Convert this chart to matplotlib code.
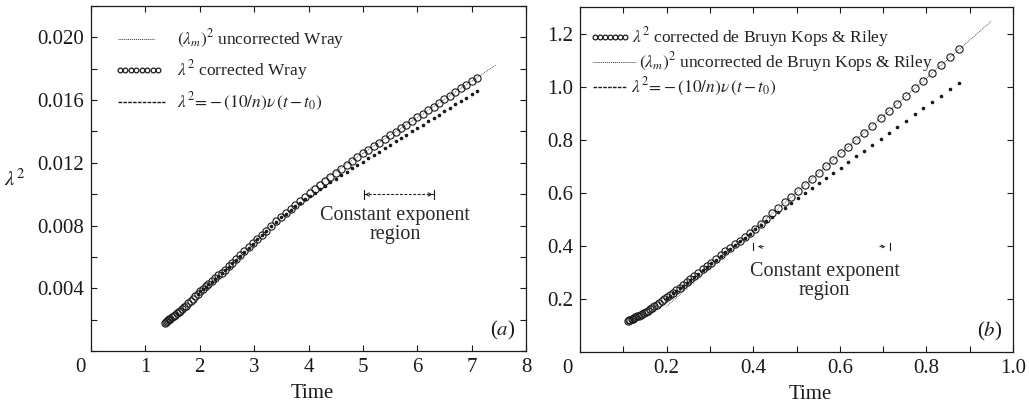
import numpy as np
import matplotlib
matplotlib.use("Agg")
import matplotlib.pyplot as plt
from matplotlib.lines import Line2D
from matplotlib.transforms import ScaledTranslation
from matplotlib.ticker import MultipleLocator, FixedLocator

plt.rcParams['font.family'] = ['Liberation Serif', 'DejaVu Serif']
plt.rcParams['mathtext.fontset'] = 'stix'

# ---------------- (a) Wray ----------------
wray_t = [1.36, 1.38, 1.40, 1.42, 1.44, 1.46, 1.49, 1.52, 1.55, 1.58, 1.61, 1.64,
          1.67, 1.71, 1.75, 1.79, 1.83, 1.87, 1.91, 1.96, 2.01, 2.06, 2.11, 2.16,
          2.22, 2.28, 2.34, 2.40, 2.46, 2.53, 2.60, 2.67, 2.74, 2.82, 2.90, 2.98,
          3.06, 3.14, 3.22, 3.31, 3.40, 3.49, 3.58, 3.67, 3.76, 3.85, 3.94, 4.03,
          4.12, 4.21, 4.30, 4.40, 4.50, 4.60, 4.70, 4.80, 4.90, 5.00, 5.10, 5.20,
          5.30, 5.40, 5.50, 5.60, 5.70, 5.80, 5.90, 6.00, 6.10, 6.20, 6.30, 6.40,
          6.50, 6.60, 6.70, 6.80, 6.90, 7.00, 7.10]
wray_corr = [0.00181, 0.00186, 0.00192, 0.00197, 0.00202, 0.00207, 0.00215, 0.00223,
             0.00232, 0.00241, 0.00250, 0.00258, 0.00267, 0.00278, 0.00290, 0.00304,
             0.00319, 0.00333, 0.00348, 0.00366, 0.00383, 0.00398, 0.00413, 0.00428,
             0.00446, 0.00464, 0.00482, 0.00500, 0.00518, 0.00540, 0.00563, 0.00586,
             0.00609, 0.00636, 0.00662, 0.00688, 0.00715, 0.00741, 0.00768, 0.00797,
             0.00827, 0.00857, 0.00882, 0.00908, 0.00933, 0.00958, 0.00983, 0.01008,
             0.01032, 0.01057, 0.01081, 0.01108, 0.01135, 0.01160, 0.01185, 0.01210,
             0.01235, 0.01260, 0.01283, 0.01306, 0.01329, 0.01352, 0.01375, 0.01398,
             0.01421, 0.01444, 0.01467, 0.01490, 0.01513, 0.01536, 0.01559, 0.01582,
             0.01605, 0.01628, 0.01651, 0.01674, 0.01697, 0.01720, 0.01743]
wray_unc_t = wray_t[19:]
wray_unc = [0.00363, 0.00380, 0.00395, 0.00410, 0.00425, 0.00443, 0.00461, 0.00479,
            0.00497, 0.00515, 0.00537, 0.00560, 0.00583, 0.00606, 0.00633, 0.00659,
            0.00685, 0.00712, 0.00738, 0.00765, 0.00794, 0.00824, 0.00852, 0.00876,
            0.00899, 0.00922, 0.00945, 0.00967, 0.00989, 0.01010, 0.01031, 0.01052,
            0.01075, 0.01098, 0.01120, 0.01142, 0.01164, 0.01186, 0.01207, 0.01229,
            0.01250, 0.01272, 0.01293, 0.01315, 0.01336, 0.01358, 0.01379, 0.01401,
            0.01422, 0.01444, 0.01465, 0.01487, 0.01508, 0.01530, 0.01551, 0.01573,
            0.01594, 0.01616, 0.01637, 0.01659]
wray_fit_t = [4.0, 7.45]
wray_fit = [0.0103, 0.01824]
wray_region = [5.02, 6.30]
wray_xticks = [0, 1, 2, 3, 4, 5, 6, 7, 8]
wray_xlabels = ['0', '1', '2', '3', '4', '5', '6', '7', '8']
wray_yticks = [0.004, 0.008, 0.012, 0.016, 0.020]
wray_ylabels = ['0.004', '0.008', '0.012', '0.016', '0.020']

# ---------------- (b) de Bruyn Kops & Riley ----------------
dbkr_t = [0.110, 0.113, 0.116, 0.119, 0.122, 0.125, 0.128, 0.132, 0.136, 0.140,
          0.144, 0.148, 0.152, 0.157, 0.162, 0.167, 0.172, 0.177, 0.183, 0.189,
          0.195, 0.201, 0.208, 0.215, 0.222, 0.230, 0.238, 0.246, 0.255, 0.264,
          0.273, 0.283, 0.293, 0.303, 0.314, 0.325, 0.336, 0.347, 0.358, 0.369,
          0.380, 0.392, 0.404, 0.417, 0.430, 0.444, 0.458, 0.473, 0.488, 0.503,
          0.519, 0.535, 0.551, 0.568, 0.585, 0.602, 0.620, 0.638, 0.656, 0.675,
          0.694, 0.713, 0.733, 0.753, 0.773, 0.793, 0.813, 0.833, 0.854, 0.875]
dbkr_corr = [0.118, 0.120, 0.122, 0.124, 0.126, 0.128, 0.131, 0.134, 0.137, 0.140,
             0.143, 0.146, 0.150, 0.155, 0.161, 0.166, 0.172, 0.177, 0.184, 0.191,
             0.198, 0.206, 0.215, 0.224, 0.233, 0.243, 0.253, 0.263, 0.274, 0.286,
             0.298, 0.311, 0.324, 0.337, 0.351, 0.365, 0.379, 0.393, 0.406, 0.420,
             0.434, 0.449, 0.465, 0.483, 0.502, 0.522, 0.542, 0.564, 0.585, 0.607,
             0.630, 0.652, 0.675, 0.700, 0.724, 0.748, 0.774, 0.800, 0.826, 0.853,
             0.880, 0.908, 0.936, 0.965, 0.994, 1.022, 1.051, 1.080, 1.110, 1.140]
dbkr_unc_t = dbkr_t[21:]
dbkr_unc = [0.203, 0.212, 0.221, 0.230, 0.240, 0.250, 0.260, 0.271, 0.283, 0.295,
            0.308, 0.321, 0.334, 0.348, 0.362, 0.376, 0.390, 0.403, 0.417, 0.431,
            0.446, 0.464, 0.479, 0.494, 0.510, 0.527, 0.544, 0.562, 0.580, 0.598,
            0.617, 0.636, 0.656, 0.675, 0.695, 0.716, 0.737, 0.759, 0.781, 0.803,
            0.825, 0.849, 0.872, 0.895, 0.919, 0.942, 0.966, 0.990, 1.015]
dbkr_fit_t = [0.20, 0.95]
dbkr_fit = [0.172, 1.247]
dbkr_region = [0.40, 0.716]
dbkr_xticks = [0.0, 0.2, 0.4, 0.6, 0.8, 1.0]
dbkr_xlabels = ['0', '0.2', '0.4', '0.6', '0.8', '1.0']
dbkr_yticks = [0.2, 0.4, 0.6, 0.8, 1.0, 1.2]
dbkr_ylabels = ['0.2', '0.4', '0.6', '0.8', '1.0', '1.2']

W, H = 1029, 407
fig = plt.figure(figsize=(W / 100, H / 100), dpi=100)
axa = fig.add_axes([91 / W, 1 - 351 / H, 435 / W, 345 / H])
axb = fig.add_axes([580 / W, 1 - 352 / H, 433 / W, 345 / H])

INK = '#1a1a1a'
circ = dict(linestyle='none', marker='o', markersize=5.2, markerfacecolor='none',
            markeredgecolor=INK, markeredgewidth=0.8)
dots = dict(linestyle='none', marker='o', markersize=1.6, color=INK)
fitkw = dict(linestyle=(0, (1, 1.2)), linewidth=0.6, color='#333333')

for ax in (axa, axb):
    for s in ax.spines.values():
        s.set_linewidth(0.9)
        s.set_color(INK)
    ax.tick_params(which='both', direction='in', top=True, right=True,
                   length=4, width=0.8, colors=INK, labelsize=15, pad=5)

# panel (a)
axa.plot(wray_fit_t, wray_fit, **fitkw)
axa.plot(wray_unc_t, wray_unc, **dots)
axa.plot(wray_t, wray_corr, **circ)
axa.set_xlim(0, 8)
axa.set_ylim(0, 0.022)
axa.set_xticks(wray_xticks, wray_xlabels)
axa.set_yticks(wray_yticks, wray_ylabels)
axa.yaxis.set_minor_locator(MultipleLocator(0.002))

# panel (b)
axb.plot(dbkr_fit_t, dbkr_fit, **fitkw)
axb.plot(dbkr_unc_t, dbkr_unc, **dots)
axb.plot(dbkr_t, dbkr_corr, **circ)
axb.set_xlim(0, 1.0)
axb.set_ylim(0, 1.3)
axb.set_xticks(dbkr_xticks, dbkr_xlabels)
axb.set_yticks(dbkr_yticks, dbkr_ylabels)
axb.xaxis.set_minor_locator(MultipleLocator(0.1))

fig.canvas.draw()
for ax, dx in ((axa, -11), (axb, -13)):
    lab = ax.get_xticklabels()[0]
    lab.set_transform(lab.get_transform() + ScaledTranslation(dx / 100, 0, fig.dpi_scale_trans))

for ax, xc in ((axa, 0.508), (axb, 0.531)):
    ax.set_xlabel('Time', fontsize=15, color=INK)
    ax.xaxis.set_label_coords(xc, -0.123)
    ax.xaxis.label.set_va('center')
axa.set_ylabel(r'$\lambda^2$', fontsize=15, rotation=0, color=INK, va='center', ha='center')
axa.yaxis.set_label_coords(-0.175, 0.494)

axa.text(0.947, 0.06, '($a$)', transform=axa.transAxes, fontsize=15,
         ha='center', va='center', color=INK)
axb.text(0.947, 0.06, '($b$)', transform=axb.transAxes, fontsize=15,
         ha='center', va='center', color=INK)

# constant exponent region markers
ya = 0.00998
axa.plot(wray_region, [ya, ya], color=INK, linewidth=0.8, linestyle=(0, (2.5, 1.5)))
for xv in wray_region:
    axa.plot([xv, xv], [ya - 0.00028, ya + 0.00028], color=INK, linewidth=0.8)
axa.annotate('', xy=(wray_region[0] + 0.02, ya), xytext=(wray_region[0] + 0.12, ya),
             arrowprops=dict(arrowstyle='->', lw=0.7, color=INK, mutation_scale=6))
axa.annotate('', xy=(wray_region[1] - 0.02, ya), xytext=(wray_region[1] - 0.12, ya),
             arrowprops=dict(arrowstyle='->', lw=0.7, color=INK, mutation_scale=6))
axa.text(5.59, 0.00803, 'Constant exponent\nregion', fontsize=14.5, ha='center',
         va='center', multialignment='center', linespacing=1.0, color='#2a2a2a')

yb = 0.397
for xv, d in ((dbkr_region[0], 1), (dbkr_region[1], -1)):
    axb.plot([xv, xv], [yb - 0.012, yb + 0.012], color=INK, linewidth=0.8)
    axb.annotate('', xy=(xv + d * 0.004, yb), xytext=(xv + d * 0.03, yb),
                 arrowprops=dict(arrowstyle='->', lw=0.7, color=INK, mutation_scale=6,
                                 linestyle=(0, (2.5, 1.5))))
axb.text(0.565, 0.266, 'Constant exponent\nregion', fontsize=14.5, ha='center',
         va='center', multialignment='center', linespacing=1.0, color='#2a2a2a')


# hand-placed legends (figure pixel positions)
def fx(px):
    return px / W


def fy(py):
    return 1 - py / H


def key_dotted(x0, x1, y):
    fig.add_artist(Line2D([fx(x0), fx(x1)], [fy(y), fy(y)], transform=fig.transFigure,
                          linestyle=(0, (1, 1)), linewidth=0.7, color='#333333'))


def key_dashed(x0, x1, y):
    fig.add_artist(Line2D([fx(x0), fx(x1)], [fy(y), fy(y)], transform=fig.transFigure,
                          linestyle=(0, (2.6, 0.9)), linewidth=1.0, color=INK))


def key_circles(x0, x1, y, n):
    xs = np.linspace(fx(x0), fx(x1), n)
    fig.add_artist(Line2D(xs, [fy(y)] * n, transform=fig.transFigure, linestyle='none',
                          marker='o', markersize=3.4, markerfacecolor='none',
                          markeredgecolor=INK, markeredgewidth=0.9))


def key_text(x, y, s):
    fig.text(fx(x), fy(y), s, fontsize=12.5, ha='left', va='center', color='#222222')


key_dotted(118, 155, 39)
key_text(177, 39, r'$(\lambda_m)^2$ uncorrected Wray')
key_circles(120, 158, 70, 8)
key_text(177, 70, r'$\lambda^2$ corrected Wray')
key_dashed(118, 165, 102)
key_text(177, 102, r'$\lambda^2\!=\!-(10/n)\nu\,(t-t_0)$')

key_circles(595, 625, 37, 7)
key_text(632, 37, r'$\lambda^2$ corrected de Bruyn Kops & Riley')
key_dotted(593, 636, 62)
key_text(639, 62, r'$(\lambda_m)^2$ uncorrected de Bruyn Kops & Riley')
key_dashed(593, 627, 87)
key_text(631, 87, r'$\lambda^2\!=\!-(10/n)\nu\,(t-t_0)$')

fig.savefig('out.png', dpi=100)
